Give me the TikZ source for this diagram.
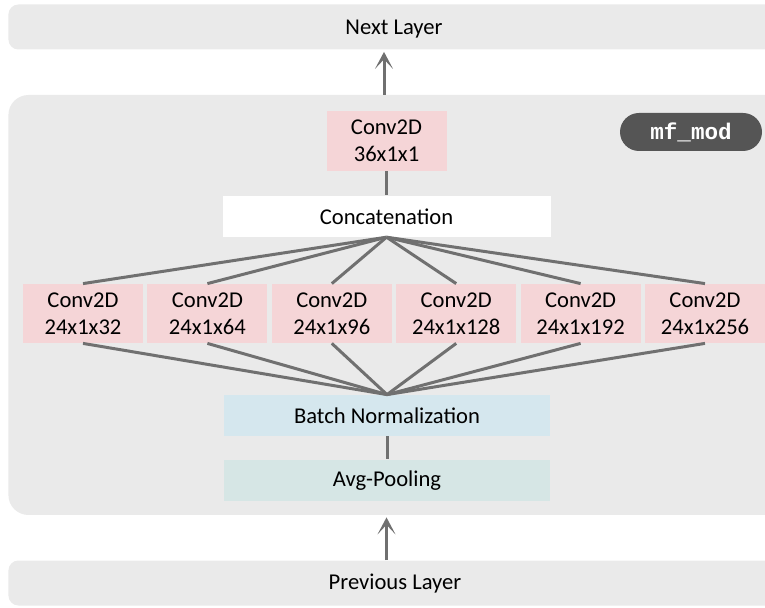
\documentclass[tikz,border=0pt]{standalone}
\usepackage{fontspec}
\setmainfont{Carlito}
\setmonofont{Liberation Mono}
\usetikzlibrary{positioning,arrows.meta}
\definecolor{bandgray}{HTML}{EAEAEA}
\definecolor{convpink}{HTML}{F5D5D7}
\definecolor{bnblue}{HTML}{D5E7EE}
\definecolor{poolteal}{HTML}{D6E6E5}
\definecolor{linkgray}{HTML}{707070}
\definecolor{taggray}{HTML}{555555}
\tikzset{
  every node/.style={font=\fontsize{11.3}{13.3}\selectfont},
  layerband/.style={fill=bandgray, rounded corners=5pt, minimum width=400pt,
    minimum height=22.5pt, anchor=west, inner sep=0pt},
  opbox/.style={fill=convpink, minimum width=60pt, minimum height=29.5pt,
    align=center, inner sep=0pt},
  widebox/.style={minimum width=164pt, minimum height=20.5pt, inner sep=0pt},
  link/.style={draw=linkgray, line width=1.5pt},
  flow/.style={link, -{Stealth[length=8.5pt,width=9pt,inset=4.8pt]}},
}

\begin{document}
\begin{tikzpicture}
\useasboundingbox (0,0) rectangle (382.5pt,-304pt);

% outer bands
\node[layerband] (next) at (4pt,-13.5pt) {};
\node[layerband, rounded corners=10pt, minimum height=210pt] (mfblock) at (4pt,-152.5pt) {};
\node[layerband] (prev) at (4pt,-291.5pt) {};

\node[fill=taggray, text=white, rounded corners=9.5pt, minimum width=71pt,
  minimum height=19pt, inner sep=0pt] (tag) at (345.5pt,-66pt)
  {\ttfamily\bfseries mf\_mod};

% inner layers
\node[opbox, minimum height=30pt] (c36) at (193.25pt,-70.5pt) {Conv2D\\36x1x1};
\node[widebox, fill=white, below=12pt of c36] (concat) {Concatenation};

\node[opbox] (c1) at (41.5pt,-156.75pt) {Conv2D\\24x1x32};
\node[opbox, right=1.8pt of c1] (c2) {Conv2D\\24x1x64};
\node[opbox, right=1.8pt of c2] (c3) {Conv2D\\24x1x96};
\node[opbox, right=1.8pt of c3] (c4) {Conv2D\\24x1x128};
\node[opbox, right=1.8pt of c4] (c5) {Conv2D\\24x1x192};
\node[opbox, right=1.8pt of c5] (c6) {Conv2D\\24x1x256};

\node[widebox, fill=bnblue, minimum width=163pt] (bn) at (193.5pt,-207.75pt) {Batch Normalization};
\node[widebox, fill=poolteal, minimum width=163pt, below=11.5pt of bn] (pool) {Avg-Pooling};

\node (nexttxt) at (197pt,-14.5pt) {Next Layer};
\node (prevtxt) at (197.5pt,-292pt) {Previous Layer};

% connectors
\draw[link] (c36) -- (concat);
\foreach \i in {1,...,6} {
  \draw[link] (concat.south) -- (c\i.north);
  \draw[link] (c\i.south) -- (bn.north);
}
\draw[link] (bn) -- (pool);

\draw[flow, shorten >=1pt] ([xshift=-1.25pt]c36 |- mfblock.north) -- ([xshift=-1.25pt]c36 |- next.south);
\draw[flow, shorten >=1pt] (c36 |- prev.north) -- (c36 |- mfblock.south);

\end{tikzpicture}
\end{document}
